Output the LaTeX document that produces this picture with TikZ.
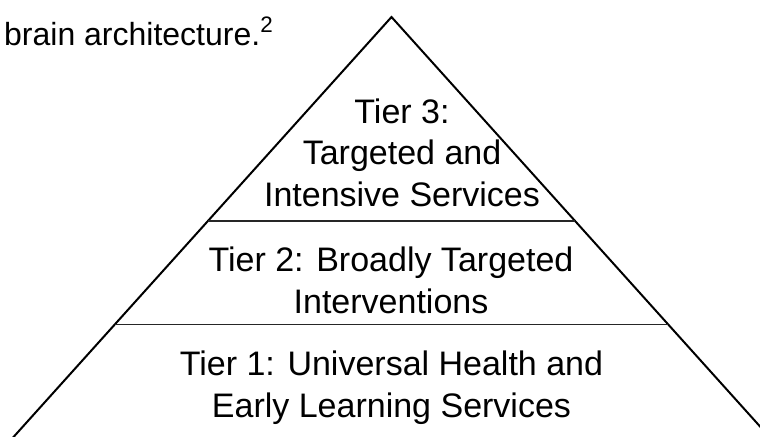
\documentclass[tikz,border=0pt]{standalone}
\usepackage{fontspec}
\setmainfont{Liberation Sans}
\usetikzlibrary{calc}
\begin{document}
\begin{tikzpicture}[x=0.75pt,y=-0.75pt,
  tier/.style={align=center,anchor=base,inner sep=0pt,font=\fontsize{25.5}{31.1}\selectfont}]
  \clip (0,0) rectangle (760,436);
  % corners of the pyramid (base runs below the page)
  \coordinate (apex) at (391.5,17);
  \coordinate (bl) at (14.4,436);
  \coordinate (br) at (768.6,436);
  \draw[line width=1.5pt] ($(apex)!1.05!(bl)$) -- (apex) -- ($(apex)!1.05!(br)$);
  % tier dividers
  \foreach \t in {0.487,0.733}
    \draw[line width=0.9pt,black!85] ($(apex)!\t!(bl)$) -- ($(apex)!\t!(br)$);
  \node[anchor=base west,inner sep=0pt,font=\fontsize{24}{29}\selectfont] (txt) at (3.9,45) {brain architecture.\textsuperscript{2}};
  % tier labels, placed by the baseline of their last line
  \node[tier] (t3) at (402,206) {Tier 3:\\Targeted and\\Intensive Services};
  \node[tier] (t2) at (391,313) {Tier 2: Broadly Targeted\\Interventions};
  \node[tier] (t1) at (391.5,417) {Tier 1: Universal Health and\\Early Learning Services};
\end{tikzpicture}
\end{document}
